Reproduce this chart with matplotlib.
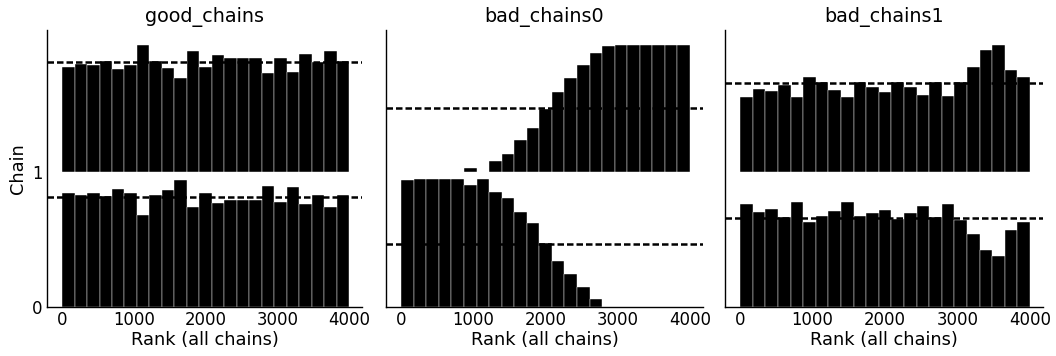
import numpy as np
import matplotlib
matplotlib.use("Agg")
import matplotlib.pyplot as plt

titles = ["good_chains", "bad_chains0", "bad_chains1"]
n_ranks = 4000
n_bins = 23
chain_labels = [0, 1]

# normalized bar heights per bin (chain 0, chain 1)
good_chain0 = [0.841, 0.826, 0.843, 0.821, 0.870, 0.843, 0.681, 0.831, 0.863, 0.937,
               0.737, 0.843, 0.772, 0.789, 0.789, 0.789, 0.897, 0.779, 0.890, 0.760,
               0.826, 0.740, 0.826]
good_chain1 = [0.774, 0.794, 0.784, 0.819, 0.755, 0.784, 0.937, 0.819, 0.765, 0.688,
               0.887, 0.774, 0.860, 0.841, 0.841, 0.836, 0.725, 0.841, 0.737, 0.870,
               0.806, 0.887, 0.814]
bad0_chain0 = [0.939, 0.946, 0.946, 0.946, 0.946, 0.902, 0.946, 0.853, 0.804, 0.701,
               0.619, 0.472, 0.342, 0.246, 0.152, 0.059, 0.0, 0.0, 0.0, 0.0,
               0.0, 0.0, 0.0]
bad0_chain1 = [0.0, 0.0, 0.0, 0.0, 0.0, 0.025, 0.0, 0.081, 0.130, 0.234,
               0.320, 0.462, 0.590, 0.688, 0.784, 0.878, 0.927, 0.937, 0.937, 0.937,
               0.937, 0.937, 0.937]
bad1_chain0 = [0.760, 0.703, 0.723, 0.669, 0.777, 0.627, 0.671, 0.713, 0.777, 0.671,
               0.693, 0.720, 0.649, 0.693, 0.747, 0.669, 0.760, 0.647, 0.541, 0.423,
               0.376, 0.568, 0.627]
bad1_chain1 = [0.548, 0.612, 0.592, 0.642, 0.548, 0.696, 0.661, 0.602, 0.548, 0.661,
               0.622, 0.588, 0.661, 0.622, 0.565, 0.664, 0.558, 0.664, 0.774, 0.897,
               0.937, 0.747, 0.696]

panels = [
    (good_chain0, good_chain1),
    (bad0_chain0, bad0_chain1),
    (bad1_chain0, bad1_chain1),
]

W, H = 1056, 356
fig = plt.figure(figsize=(W / 100, H / 100), dpi=100)

axes_px = [(47, 362), (386, 703), (725, 1043)]
top_px, bot_px = 30, 307.3

edges = np.linspace(0, n_ranks, n_bins + 1)
width = edges[1] - edges[0]

axes = []
for i, (title, chains) in enumerate(zip(titles, panels)):
    l, r = axes_px[i]
    rect = [l / W, 1 - bot_px / H, (r - l) / W, (bot_px - top_px) / H]
    if i == 0:
        ax = fig.add_axes(rect)
    else:
        ax = fig.add_axes(rect, sharey=axes[0])
    axes.append(ax)
    for idx, heights in enumerate(chains):
        h = np.asarray(heights)
        ax.bar(edges[:-1], h, bottom=idx, width=width, align="edge",
               color="k", edgecolor="white", linewidth=0.3)
        ax.axhline(idx + h.mean(), color="k", linestyle=(0, (2.6, 1.2)), lw=1.8)
    ax.set_title(title, fontsize=13.8)
    ax.set_xlabel("Rank (all chains)", fontsize=12.8, labelpad=1)
    ax.set_xticks([0, 1000, 2000, 3000, 4000])
    ax.tick_params(length=0, labelsize=11.9, pad=3)
    for s in ["top", "right"]:
        ax.spines[s].set_visible(False)
    for s in ["left", "bottom"]:
        ax.spines[s].set_linewidth(1.0)
    ax.set_xlim(-210, 4180)
    if i > 0:
        plt.setp(ax.get_yticklabels(), visible=False)

axes[0].set_yticks(chain_labels)
axes[0].set_yticklabels([str(c) for c in chain_labels])
axes[0].set_ylim(0, 2.045)
axes[0].set_ylabel("Chain", fontsize=12.8, labelpad=4)

fig.savefig("out.png", dpi=100)
